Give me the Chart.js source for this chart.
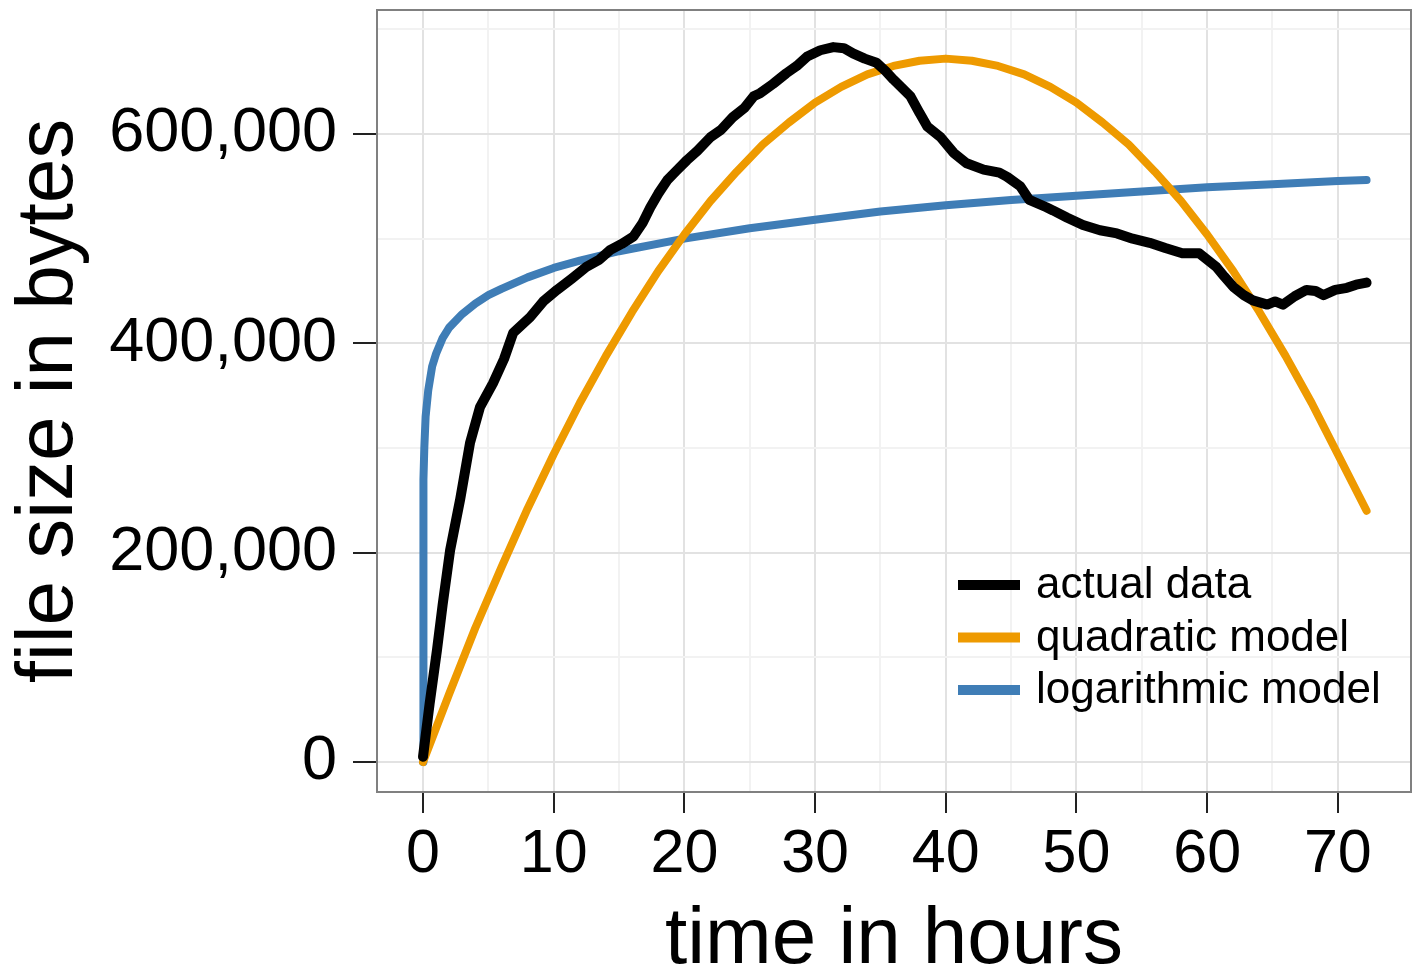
<!DOCTYPE html>
<html>
<head>
<meta charset="utf-8">
<script src="https://cdn.jsdelivr.net/npm/chart.js@4.4.1/dist/chart.umd.min.js"></script>
<style>
  body { margin: 0; background: #fff; }
  #wrap { width: 1419px; height: 970px; position: relative; }
</style>
</head>
<body>
<div id="wrap"><canvas id="fileChart"></canvas></div>
<script>
// Axis ticks (labelled) and minor grid positions
const xTicks = [0, 10, 20, 30, 40, 50, 60, 70];
const xMinor = [5, 15, 25, 35, 45, 55, 65];
const yTicks = [0, 200000, 400000, 600000];
const yMinor = [100000, 300000, 500000, 700000];

const seriesNames = ['actual data', 'quadratic model', 'logarithmic model'];

// actual data
const actualHours = [0, 0.5, 1.07, 1.5, 2.07, 2.83, 3.6, 4.36, 5.36, 6.2, 6.9, 8.2, 9.2, 10.25, 11.4, 12.5,
  13.5, 14.3, 15.2, 16.1, 16.8, 17.4, 18.0, 18.7, 19.4, 20.2, 21.0, 22.0, 22.8, 23.7, 24.6, 25.3, 25.8,
  26.8, 27.8, 28.6, 29.4, 30.4, 31.4, 32.2, 32.9, 33.8, 34.7, 35.4, 36.0, 37.3, 38.0, 38.6, 39.6, 40.6,
  41.6, 42.9, 44.1, 44.7, 45.7, 46.4, 47.7, 48.2, 49.3, 50.5, 51.8, 53.1, 54.3, 55.6, 56.8, 58.1, 59.4,
  60.7, 61.3, 62.0, 62.8, 63.5, 64.6, 65.2, 65.8, 66.7, 67.6, 68.3, 68.9, 69.8, 70.7, 71.4, 72.2];
const actualBytes = [5000, 55000, 107000, 150000, 202000, 250000, 305000, 339000, 362000, 385000, 410000,
  425000, 440000, 451000, 462000, 473000, 480000, 489000, 495000, 502000, 515000, 530000, 543000, 556000,
  565000, 575000, 584000, 597000, 604000, 616000, 625000, 636000, 639000, 648000, 658000, 665000, 674000,
  680000, 683000, 682000, 677000, 672000, 668000, 660000, 652000, 636000, 620000, 607000, 597000, 582000,
  572000, 566000, 563000, 559000, 550000, 537000, 530000, 527000, 520000, 513000, 508000, 505000, 500000,
  496000, 491000, 486000, 486000, 473000, 464000, 454000, 446000, 441000, 437000, 440000, 437000, 445000,
  451000, 450000, 446000, 451000, 453000, 456000, 458000];

// quadratic model
const quadHours = [0, 2, 4, 6, 8, 10, 12, 14, 16, 18, 20, 22, 24, 26, 28, 30, 32, 34, 36, 38, 40,
  42, 44, 46, 48, 50, 52, 54, 56, 58, 60, 62, 64, 66, 68, 70, 72.2];
const quadBytes = [0, 65000, 128000, 186000, 242000, 294000, 343000, 388000, 430000, 469000, 504000,
  536000, 564000, 590000, 611000, 630000, 645000, 657000, 665000, 670000, 672000, 670000, 665000, 657000,
  645000, 630000, 611000, 590000, 564000, 536000, 504000, 469000, 430000, 388000, 343000, 294000, 240000];

// logarithmic model
const logHours = [0, 0.01, 0.03, 0.06, 0.1, 0.2, 0.4, 0.7, 1, 1.5, 2, 3, 4, 5, 6, 8, 10, 12, 15, 20,
  25, 30, 35, 40, 45, 50, 55, 60, 65, 70, 72.2];
const logBytes = [0, 180000, 230000, 270000, 300000, 330000, 355000, 378000, 390000, 405000, 415000,
  428000, 438000, 446000, 452000, 463000, 472000, 479000, 488000, 500000, 510000, 518000, 526000, 532000,
  537000, 541000, 545000, 549000, 552000, 555000, 556000];

function pairs(xs, ys) {
  return xs.map((x, i) => ({ x: x, y: ys[i] }));
}

const colors = ['#000000', '#ee9a00', '#3f7db6'];
const widths = [10, 8, 8];

// full grey frame around the plot area
const framePlugin = {
  id: 'frame',
  afterDatasetsDraw(chart) {
    const a = chart.chartArea;
    const ctx = chart.ctx;
    ctx.save();
    ctx.strokeStyle = '#808080';
    ctx.lineWidth = 2;
    ctx.strokeRect(a.left, a.top, a.right - a.left, a.bottom - a.top);
    ctx.restore();
  }
};

// legend inside the plot, lower right
const legendPlugin = {
  id: 'innerLegend',
  afterDatasetsDraw(chart) {
    const a = chart.chartArea;
    const ctx = chart.ctx;
    ctx.save();
    ctx.font = '44px "Liberation Sans", Arial, sans-serif';
    ctx.textBaseline = 'middle';
    ctx.fillStyle = '#000';
    chart.data.datasets.forEach((ds, i) => {
      const y = a.bottom - 207 + i * 52.5;
      ctx.strokeStyle = ds.borderColor;
      ctx.lineWidth = 10;
      ctx.beginPath();
      ctx.moveTo(a.left + 581, y);
      ctx.lineTo(a.left + 643, y);
      ctx.stroke();
      ctx.fillText(ds.label, a.left + 659, y + 1);
    });
    ctx.restore();
  }
};

const datasets = [
  pairs(actualHours, actualBytes),
  pairs(quadHours, quadBytes),
  pairs(logHours, logBytes)
].map((d, i) => ({
  label: seriesNames[i],
  data: d,
  borderColor: colors[i],
  backgroundColor: colors[i],
  borderWidth: widths[i],
  pointRadius: 0,
  tension: 0,
  borderJoinStyle: 'round',
  borderCapStyle: 'round'
}));

const config = {
  type: 'line',
  data: { datasets: datasets },
  options: {
    responsive: true,
    maintainAspectRatio: false,
    animation: false,
    layout: { padding: { top: 10, right: 8, left: 0, bottom: 0 } },
    plugins: {
      legend: { display: false },
      tooltip: { enabled: false }
    },
    scales: {
      x: {
        type: 'linear',
        min: -3.52,
        max: 75.6,
        afterBuildTicks: (scale) => {
          scale.ticks = xTicks.concat(xMinor).sort((a, b) => a - b).map(v => ({ value: v }));
        },
        afterFit: (scale) => {
          scale.height = 178;
          scale.paddingLeft = 0;
          scale.paddingRight = 0;
        },
        border: { display: false },
        grid: {
          color: (c) => (c.tick && xTicks.includes(c.tick.value)) ? '#e2e2e2' : '#f2f2f2',
          lineWidth: 2,
          tickLength: 21,
          tickWidth: 2,
          tickColor: (c) => (c.tick && xTicks.includes(c.tick.value)) ? '#222' : 'rgba(0,0,0,0)'
        },
        ticks: {
          autoSkip: false,
          maxRotation: 0,
          padding: 6,
          color: '#000',
          font: { family: '"Liberation Sans", Arial, sans-serif', size: 61 },
          callback: (v) => xTicks.includes(v) ? String(v) : ''
        },
        title: {
          display: true,
          text: 'time in hours',
          color: '#000',
          padding: { top: 0, bottom: 0 },
          font: { family: '"Liberation Sans", Arial, sans-serif', size: 80, lineHeight: 0.72 }
        }
      },
      y: {
        type: 'linear',
        min: -28660,
        max: 718450,
        afterBuildTicks: (scale) => {
          scale.ticks = yTicks.concat(yMinor).sort((a, b) => a - b).map(v => ({ value: v }));
        },
        afterFit: (scale) => {
          scale.width = 377;
          scale.paddingTop = 0;
          scale.paddingBottom = 0;
        },
        border: { display: false },
        grid: {
          color: (c) => (c.tick && yTicks.includes(c.tick.value)) ? '#e2e2e2' : '#f2f2f2',
          lineWidth: 2,
          tickLength: 24,
          tickWidth: 2,
          tickColor: (c) => (c.tick && yTicks.includes(c.tick.value)) ? '#222' : 'rgba(0,0,0,0)'
        },
        ticks: {
          autoSkip: false,
          padding: 16,
          color: '#000',
          font: { family: '"Liberation Sans", Arial, sans-serif', size: 63 },
          callback: (v) => yTicks.includes(v) ? v.toLocaleString('en-US') : ''
        },
        title: {
          display: true,
          text: 'file size in bytes',
          color: '#000',
          padding: { top: 10, bottom: 0 },
          font: { family: '"Liberation Sans", Arial, sans-serif', size: 80, lineHeight: 1 }
        }
      }
    }
  },
  plugins: [framePlugin, legendPlugin]
};

const ctx = document.getElementById('fileChart').getContext('2d');
new Chart(ctx, config);
</script>
</body>
</html>
